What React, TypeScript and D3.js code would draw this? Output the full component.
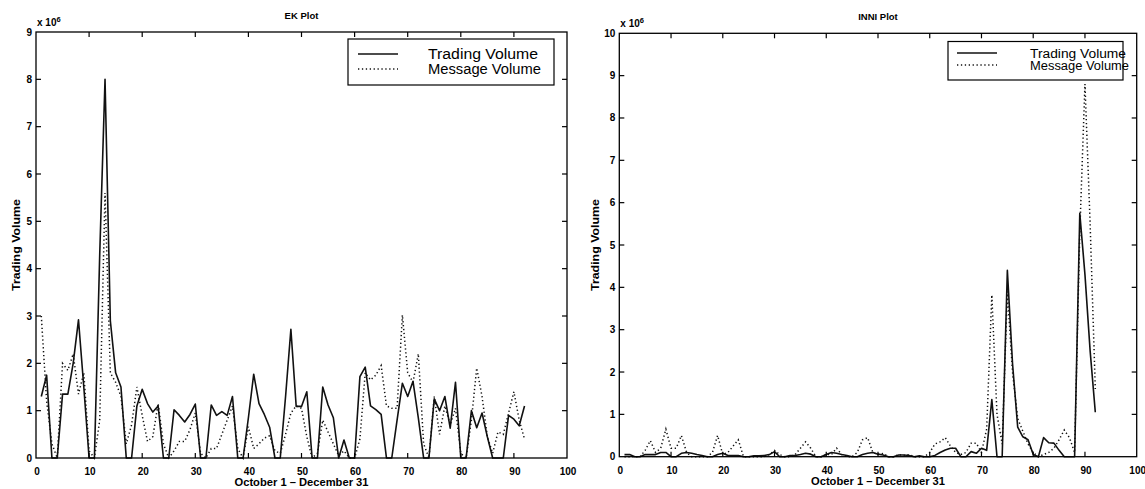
import React from 'react';
import * as d3 from 'd3';

// Day index: October 1 = 1 ... December 31 = 92
const days: number[] = d3.range(1, 93);

const xTicks = [0, 10, 20, 30, 40, 50, 60, 70, 80, 90, 100];
const xTickLabels = ['0', '10', '20', '30', '40', '50', '60', '70', '80', '90', '100'];
const ekYTicks = [0, 1, 2, 3, 4, 5, 6, 7, 8, 9];
const inniYTicks = [0, 1, 2, 3, 4, 5, 6, 7, 8, 9, 10];
const seriesNames = ['Trading Volume', 'Message Volume'];

// EK (x 10^6)
const ekTrading = [
  1.3, 1.75, 0, 0, 1.35, 1.35, 2.0, 2.92, 1.5, 0,
  0, 4.3, 8.0, 2.9, 1.8, 1.5, 0, 0, 1.1, 1.45,
  1.15, 0.97, 1.1, 0, 0, 1.02, 0.9, 0.76, 0.92, 1.14,
  0, 0, 1.12, 0.9, 0.98, 0.9, 1.3, 0, 0, 0.85,
  1.77, 1.15, 0.92, 0.65, 0, 0, 1.3, 2.72, 1.09, 1.09,
  1.4, 0, 0, 1.5, 1.12, 0.85, 0, 0.38, 0, 0,
  1.72, 1.92, 1.1, 1.02, 0.92, 0, 0, 0.8, 1.58, 1.3,
  1.62, 0.85, 0, 0, 1.25, 1.0, 1.3, 0.63, 1.6, 0,
  0, 1.0, 0.64, 0.95, 0.45, 0, 0, 0, 0.9, 0.82,
  0.68, 1.1,
];
const ekMessage = [
  3.0, 1.2, 0.3, 0, 2.0, 1.85, 2.2, 1.35, 1.8, 0.15,
  0, 0.8, 5.6, 1.8, 1.6, 1.3, 0.3, 0.7, 1.5, 0.9,
  0.35, 0.45, 1.15, 0.3, 0, 0.15, 0.35, 0.35, 0.6, 0.95,
  0.1, 0, 0.2, 0.2, 0.5, 0.8, 1.1, 0.2, 0, 0.66,
  0.2, 0.3, 0.42, 0.47, 0.15, 0.1, 0.5, 0.95, 1.1, 1.05,
  0.45, 0, 0.1, 0.8, 0.55, 0.3, 0.05, 0.15, 0, 0,
  0.4, 1.8, 1.65, 1.75, 1.95, 1.1, 1.05, 1.05, 3.02, 1.8,
  1.6, 2.2, 0.3, 0, 1.3, 0.5, 1.1, 0.7, 1.05, 0.1,
  0, 0.8, 1.9, 1.3, 0.45, 0.1, 0.55, 0.5, 0.95, 1.4,
  0.8, 0.4,
];

// INNI (x 10^6)
const inniTrading = [
  0.05, 0.05, 0, 0, 0.05, 0.05, 0.05, 0.1, 0.1, 0,
  0, 0.08, 0.1, 0.08, 0.05, 0.03, 0, 0, 0.05, 0.08,
  0.03, 0.03, 0.03, 0, 0, 0.02, 0.02, 0.03, 0.05, 0.12,
  0, 0, 0.03, 0.03, 0.05, 0.08, 0.06, 0, 0, 0.05,
  0.1, 0.08, 0.05, 0.03, 0, 0, 0.05, 0.08, 0.1, 0.06,
  0.04, 0, 0, 0.04, 0.04, 0.03, 0, 0.02, 0, 0,
  0.03, 0.1, 0.16, 0.2, 0.2, 0, 0, 0.12, 0.08, 0.2,
  0.15, 1.35, 0, 0, 4.4, 2.2, 0.7, 0.47, 0.4, 0.05,
  0, 0.45, 0.33, 0.32, 0.15, 0, 0, 0, 5.75, 4.3,
  2.5, 1.05,
];
const inniMessage = [
  0, 0, 0, 0, 0.15, 0.38, 0.1, 0.2, 0.65, 0.2,
  0.2, 0.5, 0.1, 0, 0, 0, 0, 0.1, 0.5, 0.05,
  0.1, 0.25, 0.4, 0, 0, 0, 0, 0, 0.05, 0.15,
  0.05, 0, 0, 0.05, 0.2, 0.35, 0.2, 0, 0, 0.05,
  0.05, 0.2, 0.05, 0, 0, 0.1, 0.4, 0.45, 0.1, 0.05,
  0.08, 0, 0, 0.05, 0.03, 0.05, 0, 0, 0, 0.1,
  0.3, 0.35, 0.45, 0.25, 0.1, 0.05, 0.1, 0.32, 0.32, 0.1,
  0.65, 3.82, 1.0, 0.3, 3.9, 2.0, 0.9, 0.6, 0.3, 0.1,
  0, 0.05, 0.1, 0.2, 0.4, 0.63, 0.45, 0.1, 5.3, 8.8,
  5.5, 1.6,
];

const FONT = "'Liberation Sans', Arial, Helvetica, sans-serif";

type PanelProps = {
  title: string;
  trading: number[];
  message: number[];
  yMax: number;
  yTicks: number[];
  left: number;
  right: number;
  top: number;
  bottom: number;
  legend: { x: number; y: number; w: number; h: number; lineX: number; textX: number; fontSize: number; textLen: number; row1: number; row2: number };
  yLabelX: number;
};

function Panel(p: PanelProps) {
  const xs = d3.scaleLinear().domain([0, 100]).range([p.left, p.right]);
  const ys = d3.scaleLinear().domain([0, p.yMax]).range([p.bottom, p.top]);
  const line = d3
    .line<number>()
    .x((_, i) => xs(days[i]))
    .y((d) => ys(d));
  const cx = (p.left + p.right) / 2;
  const cy = (p.top + p.bottom) / 2;
  const tl = 5;
  return (
    <g fontFamily={FONT}>
      {/* data */}
      <path d={line(p.trading) || ''} fill="none" stroke="#111" strokeWidth={1.6} strokeLinejoin="round" />
      <path d={line(p.message) || ''} fill="none" stroke="#111" strokeWidth={1.5} strokeDasharray="1.3,2.6" />
      {/* frame */}
      <rect x={p.left} y={p.top} width={p.right - p.left} height={p.bottom - p.top} fill="none" stroke="#000" strokeWidth={1.3} />
      {/* x ticks */}
      {xTicks.map((t, i) => (
        <g key={'x' + t}>
          {i > 0 && i < xTicks.length - 1 && (
            <>
              <line x1={xs(t)} x2={xs(t)} y1={p.bottom} y2={p.bottom - tl} stroke="#000" strokeWidth={1.2} />
              <line x1={xs(t)} x2={xs(t)} y1={p.top} y2={p.top + tl} stroke="#000" strokeWidth={1.2} />
            </>
          )}
          <text x={xs(t) + 1} y={p.bottom + 17} fontSize={10} fontWeight="bold" textAnchor="middle" fill="#000">
            {xTickLabels[i]}
          </text>
        </g>
      ))}
      {/* y ticks */}
      {p.yTicks.map((t) => (
        <g key={'y' + t}>
          {t > 0 && t < p.yMax && (
            <>
              <line x1={p.left} x2={p.left + tl} y1={ys(t)} y2={ys(t)} stroke="#000" strokeWidth={1.2} />
              <line x1={p.right} x2={p.right - tl} y1={ys(t)} y2={ys(t)} stroke="#000" strokeWidth={1.2} />
            </>
          )}
          <text x={p.left - 4} y={ys(t) + 3.5} fontSize={10} fontWeight="bold" textAnchor="end" fill="#000">
            {t}
          </text>
        </g>
      ))}
      {/* exponent */}
      <text x={p.left + 1} y={p.top - 6} fontSize={10} fontWeight="bold" fill="#000">
        x 10<tspan dy={-4} fontSize={7.5}>6</tspan>
      </text>
      {/* title */}
      <text x={cx} y={p.top - 13} fontSize={9.5} fontWeight="bold" textAnchor="middle" fill="#000">
        {p.title}
      </text>
      {/* axis labels */}
      <text x={cx} y={p.bottom + 28} fontSize={10} textAnchor="middle" fill="#000" fontWeight="bold" textLength={134} lengthAdjust="spacingAndGlyphs">
        October 1 – December 31
      </text>
      <text
        transform={`translate(${p.yLabelX},${cy}) rotate(-90)`}
        fontSize={10.5}
        fontWeight="bold"
        textAnchor="middle"
        fill="#000"
        textLength={92}
        lengthAdjust="spacingAndGlyphs"
      >
        Trading Volume
      </text>
      {/* legend */}
      <rect x={p.legend.x} y={p.legend.y} width={p.legend.w} height={p.legend.h} fill="#fff" stroke="#000" strokeWidth={1.2} />
      <line x1={p.legend.lineX} x2={p.legend.lineX + 40} y1={p.legend.row1 - 5} y2={p.legend.row1 - 5} stroke="#111" strokeWidth={1.5} />
      <line x1={p.legend.lineX} x2={p.legend.lineX + 40} y1={p.legend.row2 - 5} y2={p.legend.row2 - 5} stroke="#111" strokeWidth={1.3} strokeDasharray="1.3,2.6" />
      <text x={p.legend.textX} y={p.legend.row1} fontSize={p.legend.fontSize} textLength={p.legend.textLen} lengthAdjust="spacingAndGlyphs" fill="#000">
        {seriesNames[0]}
      </text>
      <text x={p.legend.textX} y={p.legend.row2} fontSize={p.legend.fontSize} textLength={p.legend.textLen + 3} lengthAdjust="spacingAndGlyphs" fill="#000">
        {seriesNames[1]}
      </text>
    </g>
  );
}

export default function App() {
  return (
    <svg
      width={1145}
      height={489}
      style={{ position: 'absolute', left: 0, top: 0, background: '#fff' }}
    >
      <rect width={1145} height={489} fill="#fff" />
      <Panel
        title="EK Plot"
        trading={ekTrading}
        message={ekMessage}
        yMax={9}
        yTicks={ekYTicks}
        left={36}
        right={567}
        top={32}
        bottom={458}
        yLabelX={20}
        legend={{ x: 348, y: 39, w: 206, h: 46, lineX: 358, textX: 428, fontSize: 14, textLen: 110, row1: 59, row2: 74 }}
      />
      <Panel
        title="INNI Plot"
        trading={inniTrading}
        message={inniMessage}
        yMax={10}
        yTicks={inniYTicks}
        left={619.3}
        right={1136.7}
        top={33.3}
        bottom={456.7}
        yLabelX={599}
        legend={{ x: 948, y: 41.5, w: 175, h: 38.5, lineX: 957, textX: 1030, fontSize: 12.5, textLen: 96, row1: 58, row2: 70 }}
      />
    </svg>
  );
}
